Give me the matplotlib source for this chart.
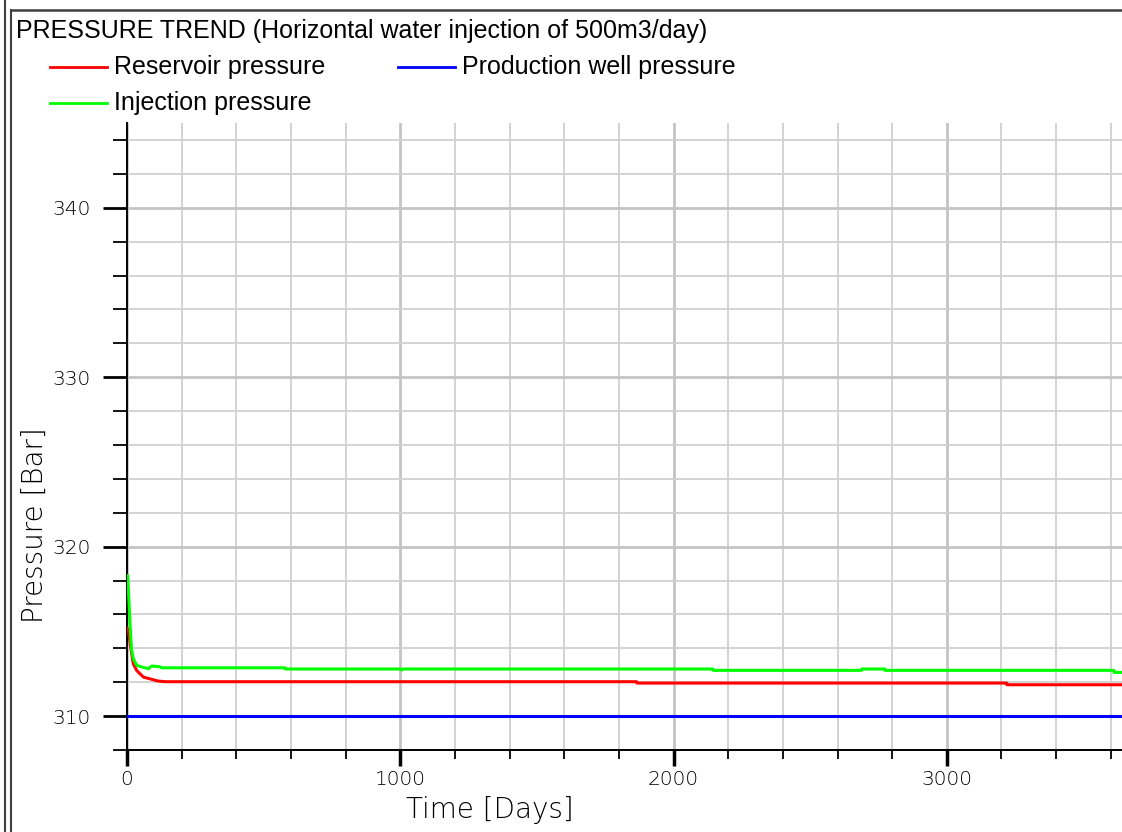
import matplotlib
matplotlib.use("Agg")
import matplotlib.pyplot as plt
from matplotlib.lines import Line2D
from matplotlib.ticker import MultipleLocator

# data
days_res = [0, 5, 15, 23, 35, 60, 84, 113, 140, 1865, 1866, 3219, 3220, 3640]
res_pressure = [315.2, 315.1, 313.9, 313.1, 312.7, 312.3, 312.2, 312.07, 312.03,
                312.03, 311.95, 311.95, 311.85, 311.85]

days_inj = [0, 2.6, 8, 13.5, 17, 23, 35, 60, 78, 90, 96, 121, 127, 578, 579,
            1000, 1005, 1010, 2144, 2145, 2688, 2689, 2773, 2774, 3611, 3612, 3640]
inj_pressure = [318.3, 318.3, 316.45, 314.7, 313.9, 313.4, 313.0, 312.87, 312.8,
                312.95, 312.95, 312.91, 312.85, 312.85, 312.78, 312.78, 312.72,
                312.78, 312.78, 312.7, 312.7, 312.78, 312.78, 312.7, 312.7,
                312.58, 312.58]

days_prod = [0, 3640]
prod_pressure = [310.0, 310.0]

W, H = 1122, 832
fig = plt.figure(figsize=(W / 100, H / 100), dpi=100)


def fx(px):
    return px / W


def fy(py):
    return 1 - py / H


ax = fig.add_axes([fx(127), fy(750), fx(W - 127), (750 - 123) / H])

ax.plot(days_prod, prod_pressure, color="#0000ff", lw=2.2, zorder=3)
ax.plot(days_res, res_pressure, color="#ff0000", lw=2.2, zorder=4)
ax.plot(days_inj, inj_pressure, color="#00ff00", lw=2.2, zorder=5)

ax.set_xlim(0, 3641)
ax.set_ylim(308, 345)

ax.xaxis.set_major_locator(MultipleLocator(1000))
ax.xaxis.set_minor_locator(MultipleLocator(200))
ax.yaxis.set_major_locator(MultipleLocator(10))
ax.yaxis.set_minor_locator(MultipleLocator(2))

ax.grid(which="major", color="#c4c4c4", lw=2.0, zorder=0)
ax.grid(which="minor", color="#d0d0d0", lw=1.3, zorder=0)
ax.set_axisbelow(True)

for s in ["top", "right"]:
    ax.spines[s].set_visible(False)
for s in ["left", "bottom"]:
    ax.spines[s].set_linewidth(1.4)
    ax.spines[s].set_color("black")

tick_font = {"family": "DejaVu Sans", "size": 14.5, "weight": "light"}
ax.tick_params(axis="y", which="major", direction="out", length=17, width=2, pad=9)
ax.tick_params(axis="y", which="minor", direction="out", length=10, width=1.3)
ax.tick_params(axis="x", which="major", direction="out", length=11.5, width=2.5, pad=3)
ax.tick_params(axis="x", which="minor", direction="out", length=6.5, width=1.3)
for lab in ax.get_xticklabels() + ax.get_yticklabels():
    lab.set_fontproperties(tick_font)
    lab.set_color("#000000")

fig.text(fx(490), fy(810), "Time [Days]", ha="center", va="center",
         fontsize=20, family="DejaVu Sans", weight="light", color="#000000")
fig.text(fx(35), fy(525), "Pressure [Bar]", ha="center", va="center",
         rotation=90, fontsize=20, family="DejaVu Sans", weight="light", color="#000000")

# title and legend
fig.text(fx(16), fy(31), "PRESSURE TREND (Horizontal water injection of 500m3/day)",
         ha="left", va="center", fontsize=18, family="Liberation Sans")

legend_items = [("Reservoir pressure", "#ff0000", 50, 67),
                ("Production well pressure", "#0000ff", 398, 67),
                ("Injection pressure", "#00ff00", 50, 103)]
for name, col, x0, y0 in legend_items:
    fig.add_artist(Line2D([fx(x0), fx(x0 + 57)], [fy(y0), fy(y0)], color=col, lw=2,
                          transform=fig.transFigure))
    fig.text(fx(x0 + 64), fy(y0), name, ha="left", va="center", fontsize=18,
             family="Liberation Sans")

# frame lines
frame_col = "#404040"
fig.add_artist(Line2D([fx(5), fx(5)], [0, 1], color=frame_col, lw=1.5,
                      transform=fig.transFigure))
fig.add_artist(Line2D([fx(11), fx(11)], [0, fy(9.5)], color=frame_col, lw=1.5,
                      transform=fig.transFigure))
fig.add_artist(Line2D([fx(11), 1], [fy(9.5), fy(9.5)], color=frame_col, lw=1.8,
                      transform=fig.transFigure))

fig.savefig("out.png", dpi=100)
